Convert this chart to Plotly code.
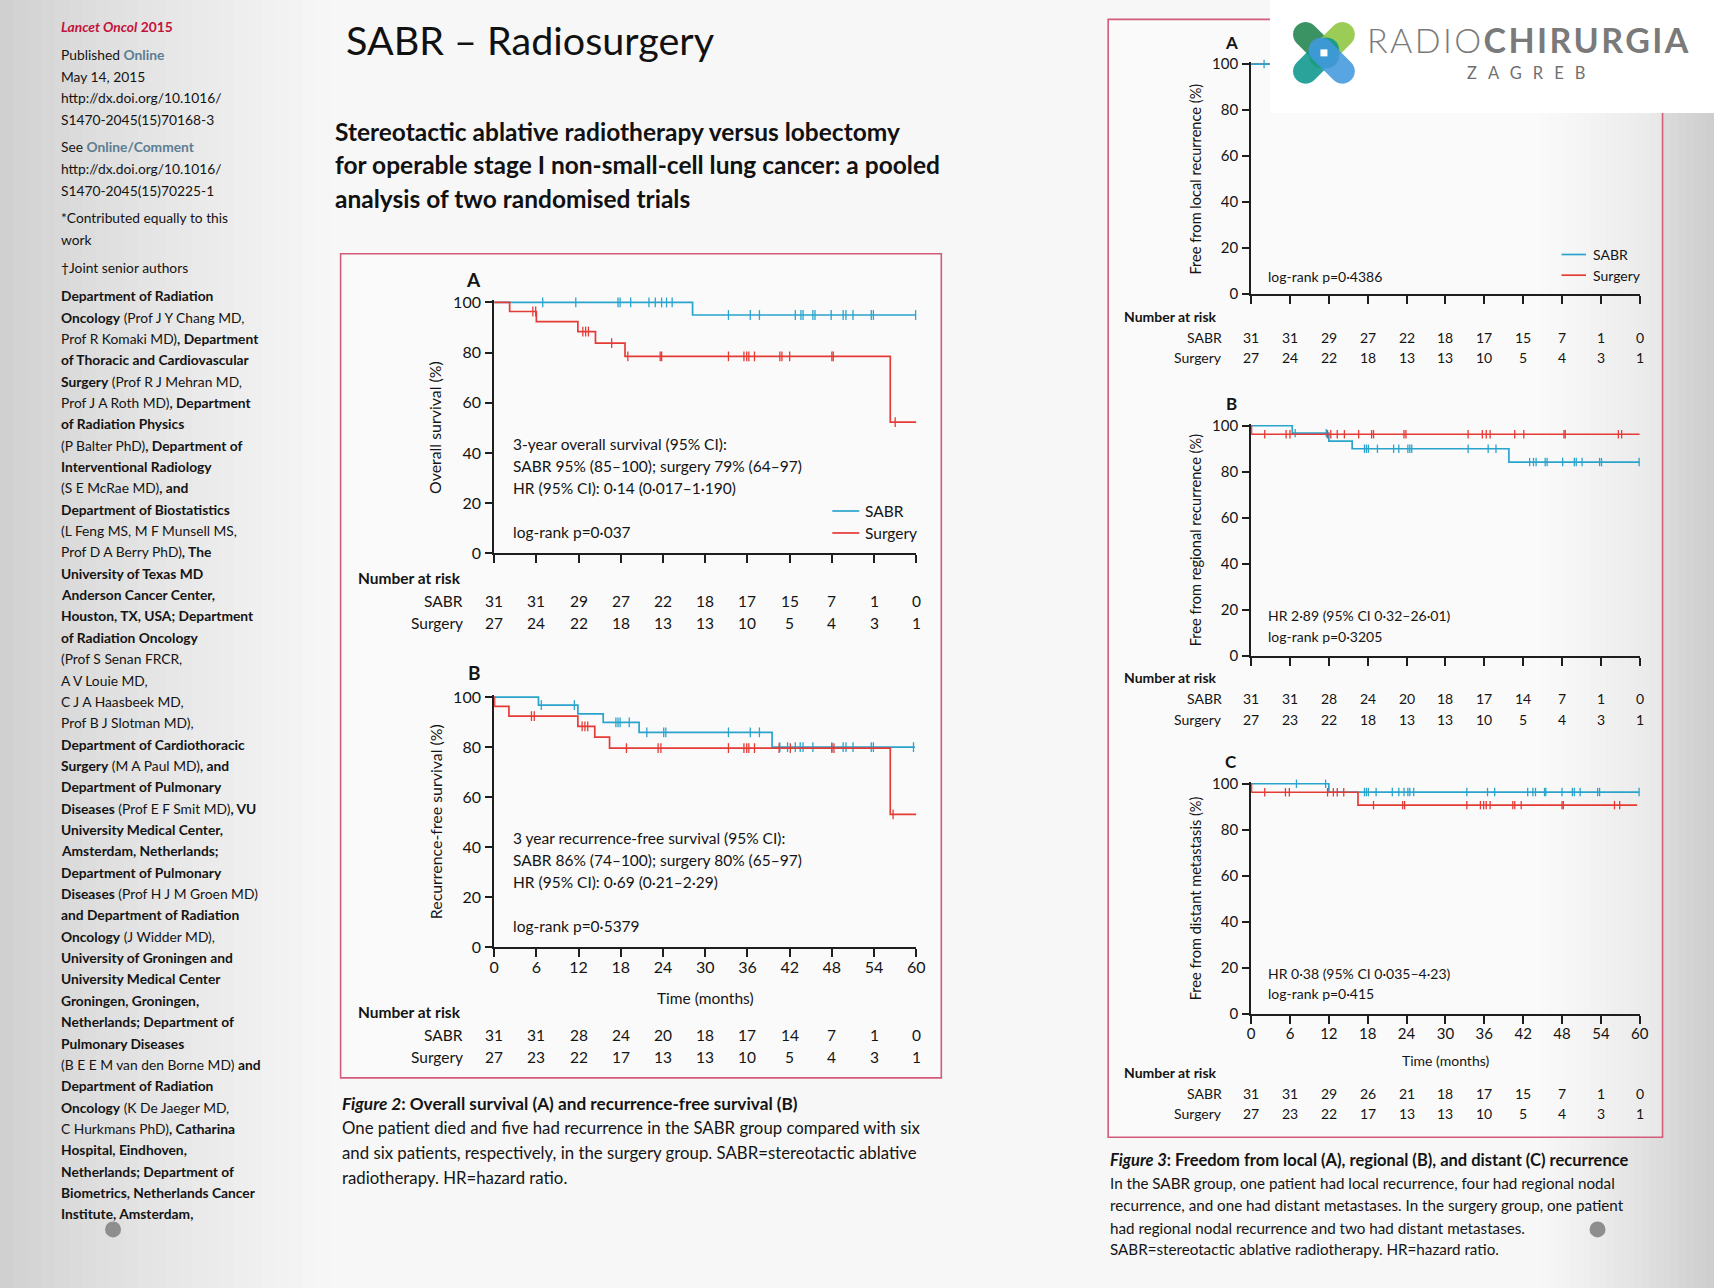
import math
import plotly.graph_objects as go

W, H = 1714, 1288
# measured capture mapping (page px -> picture px): pic = A + B * page
AX, BX = 5.0, 0.9915
AY, BY = 7.6, 0.9876


def X(p):
    return ((p - AX) / BX) / W


def Y(p):
    return 1 - ((p - AY) / BY) / H


# ------------------------------------------------------------------ data
MONTH_TICKS = [0, 6, 12, 18, 24, 30, 36, 42, 48, 54, 60]
PCT_TICKS = [0, 20, 40, 60, 80, 100]

# Figure 2A - overall survival
os_sabr_time = [0, 28.2, 60]
os_sabr_surv = [100, 95.0, 95.0]
os_sabr_cens = [6.9, 11.6, 17.6, 17.9, 19.4, 22.0, 22.9, 23.8, 24.5, 25.3, 33.3, 36.4, 37.7,
                42.8, 43.6, 43.9, 45.3, 45.6, 47.9, 49.6, 50.0, 51.0, 53.6, 53.9, 59.9]
os_surg_time = [0, 2.2, 6.0, 11.9, 14.4, 18.6, 56.3, 60]
os_surg_surv = [100, 96.4, 92.4, 88.4, 83.8, 78.5, 52.3, 52.3]
os_surg_cens = [5.5, 5.9, 12.6, 13.0, 13.4, 16.7, 19.0, 23.6, 23.8, 33.3, 35.5, 35.9, 36.2,
                37.0, 40.6, 40.9, 42.0, 48.0, 48.2, 57.0]

# Figure 2B - recurrence-free survival
rfs_sabr_time = [0, 6.3, 11.9, 15.5, 20.6, 39.5, 59.8]
rfs_sabr_surv = [100, 96.8, 93.3, 89.9, 85.9, 80.0, 80.0]
rfs_sabr_cens = [6.7, 11.4, 17.3, 17.6, 17.9, 19.2, 21.7, 24.1, 24.4, 33.3, 36.4, 37.7, 40.6,
                 41.7, 42.8, 43.5, 43.9, 45.3, 48.0, 49.6, 50.0, 51.0, 53.6, 53.9, 59.6]
rfs_surg_time = [0, 0.05, 2.1, 11.9, 14.3, 16.4, 56.3, 60]
rfs_surg_surv = [100, 96.3, 92.4, 88.3, 84.0, 79.6, 53.1, 53.1]
rfs_surg_cens = [5.3, 5.7, 12.5, 12.9, 13.3, 18.8, 23.3, 23.7, 33.3, 35.5, 35.9, 36.2, 37.0,
                 40.5, 42.1, 48.0, 48.3, 56.7]

# Figure 3A - free from local recurrence (mostly hidden behind the logo)
loc_sabr_time = [0, 30.5, 60]
loc_sabr_surv = [100, 95.5, 95.5]
loc_sabr_cens = [2.0, 7.0, 11.6, 17.6, 19.4, 22.9, 24.5, 33.3, 36.4, 42.8, 45.3, 49.6, 53.6, 59.9]
loc_surg_time = [0, 60]
loc_surg_surv = [100, 100]
loc_surg_cens = [5.5, 12.6, 16.7, 23.6, 35.5, 40.6, 48.0, 57.0]

# Figure 3B - free from regional recurrence
reg_sabr_time = [0, 6.35, 12.0, 15.6, 39.8, 60]
reg_sabr_surv = [100, 96.8, 93.3, 90.0, 84.2, 84.2]
reg_sabr_cens = [6.8, 11.6, 17.5, 17.8, 18.1, 19.5, 22.0, 22.8, 24.2, 24.5, 24.8, 33.5, 36.6,
                 37.8, 43.0, 43.6, 44.0, 45.4, 45.7, 48.1, 49.9, 50.2, 51.1, 53.8, 54.1, 59.9]
reg_surg_time = [0, 0.05, 60]
reg_surg_surv = [100, 96.3, 96.3]
reg_surg_cens = [2.1, 5.4, 6.0, 11.8, 12.3, 13.3, 14.4, 16.6, 18.6, 18.9, 23.6, 23.9, 33.5,
                 35.7, 36.3, 36.9, 40.7, 42.1, 48.3, 48.5, 56.7, 57.2]

# Figure 3C - free from distant metastasis
dis_sabr_time = [0, 12.0, 59.9]
dis_sabr_surv = [100, 96.4, 96.4]
dis_sabr_cens = [7.0, 11.5, 17.5, 17.8, 18.1, 19.3, 21.8, 22.8, 23.6, 24.2, 24.5, 25.1, 33.3,
                 36.5, 37.6, 42.7, 43.5, 43.9, 45.3, 45.5, 48.0, 49.6, 49.9, 50.8, 53.5, 53.8, 59.9]
dis_surg_time = [0, 0.05, 16.5, 59.6]
dis_surg_surv = [100, 96.3, 90.7, 90.7]
dis_surg_cens = [2.1, 5.3, 5.9, 11.8, 12.7, 13.3, 14.3, 18.9, 23.4, 23.7, 33.3, 35.4, 35.9,
                 36.3, 36.9, 40.4, 40.7, 41.7, 48.0, 48.2, 56.1, 56.9]

# Numbers at risk
risk_os_sabr = [31, 31, 29, 27, 22, 18, 17, 15, 7, 1, 0]
risk_os_surg = [27, 24, 22, 18, 13, 13, 10, 5, 4, 3, 1]
risk_rfs_sabr = [31, 31, 28, 24, 20, 18, 17, 14, 7, 1, 0]
risk_rfs_surg = [27, 23, 22, 17, 13, 13, 10, 5, 4, 3, 1]
risk_loc_sabr = [31, 31, 29, 27, 22, 18, 17, 15, 7, 1, 0]
risk_loc_surg = [27, 24, 22, 18, 13, 13, 10, 5, 4, 3, 1]
risk_reg_sabr = [31, 31, 28, 24, 20, 18, 17, 14, 7, 1, 0]
risk_reg_surg = [27, 23, 22, 18, 13, 13, 10, 5, 4, 3, 1]
risk_dis_sabr = [31, 31, 29, 26, 21, 18, 17, 15, 7, 1, 0]
risk_dis_surg = [27, 23, 22, 17, 13, 13, 10, 5, 4, 3, 1]

# ------------------------------------------------------------------ styles
FONT = "Lato, 'Open Sans', sans-serif"
INK = "#141414"
SABR_C = "#2aa4cd"
SURG_C = "#e53b36"
BOX_C = "#d25c7a"
AX_C = "#1e1e1e"


def step_at(times, surv, t):
    v = surv[0]
    for ti, si in zip(times, surv):
        if ti <= t:
            v = si
    return v


# panel layout (pixel geometry only)
PANELS = [
    dict(x0=494, x1=916, ybot=553.3, y100=302.3, xlab=False, tfs=16, big=True,
         curves=[(os_sabr_time, os_sabr_surv, os_sabr_cens, SABR_C),
                 (os_surg_time, os_surg_surv, os_surg_cens, SURG_C)],
         risk=(risk_os_sabr, risk_os_surg), risk_y=(578, 601, 623),
         ytitle="Overall survival (%)", letter="A", letter_xy=(473, 279)),
    dict(x0=494, x1=916, ybot=947.3, y100=697.3, xlab=True, tfs=16, big=True,
         curves=[(rfs_sabr_time, rfs_sabr_surv, rfs_sabr_cens, SABR_C),
                 (rfs_surg_time, rfs_surg_surv, rfs_surg_cens, SURG_C)],
         risk=(risk_rfs_sabr, risk_rfs_surg), risk_y=(1012, 1035, 1057),
         ytitle="Recurrence-free survival (%)", letter="B", letter_xy=(474, 673)),
    dict(x0=1250.7, x1=1639.2, ybot=293.7, y100=63.7, xlab=False, tfs=15, big=False,
         curves=[(loc_surg_time, loc_surg_surv, loc_surg_cens, SURG_C),
                 (loc_sabr_time, loc_sabr_surv, loc_sabr_cens, SABR_C)],
         risk=(risk_loc_sabr, risk_loc_surg), risk_y=(316.7, 337.3, 357.3),
         ytitle="Free from local recurrence (%)", letter="A", letter_xy=(1231, 41.7)),
    dict(x0=1250.7, x1=1639.2, ybot=655.7, y100=425.7, xlab=False, tfs=15, big=False,
         curves=[(reg_sabr_time, reg_sabr_surv, reg_sabr_cens, SABR_C),
                 (reg_surg_time, reg_surg_surv, reg_surg_cens, SURG_C)],
         risk=(risk_reg_sabr, risk_reg_surg), risk_y=(677.7, 698.3, 719.3),
         ytitle="Free from regional recurrence (%)", letter="B", letter_xy=(1231, 403.3)),
    dict(x0=1250.7, x1=1639.2, ybot=1014, y100=784, xlab=True, tfs=15, big=False,
         curves=[(dis_sabr_time, dis_sabr_surv, dis_sabr_cens, SABR_C),
                 (dis_surg_time, dis_surg_surv, dis_surg_cens, SURG_C)],
         risk=(risk_dis_sabr, risk_dis_surg), risk_y=(1073.3, 1094, 1114.3),
         ytitle="Free from distant metastasis (%)", letter="C", letter_xy=(1231, 761.7)),
]

YMAX = 100.8

fig = go.Figure()
annotations = []
shapes = []


def ann(text, x, y, size, color=INK, xanchor="left", yanchor="middle", xref="paper",
        family=FONT, **kw):
    annotations.append(dict(text=text, x=x, y=y, xref=xref, yref="paper", showarrow=False,
                            xanchor=xanchor, yanchor=yanchor,
                            font=dict(family=family, size=size, color=color), **kw))


layout_axes = {}
for i, p in enumerate(PANELS, start=1):
    sfx = "" if i == 1 else str(i)
    xref = "x" + sfx
    yref = "y" + sfx
    pxper = (p["ybot"] - p["y100"]) / 100.0
    ytop = p["ybot"] - YMAX * pxper
    layout_axes["xaxis" + sfx] = dict(
        domain=[X(p["x0"]), X(p["x1"])], anchor=yref, range=[0, 60], tickvals=MONTH_TICKS,
        showticklabels=p["xlab"], ticks="outside", ticklen=8, tickwidth=1.6, tickcolor=AX_C,
        showline=True, linecolor=AX_C, linewidth=2, showgrid=False, zeroline=False,
        tickfont=dict(family=FONT, size=p["tfs"], color=INK), ticklabelstandoff=-3,
        fixedrange=True)
    layout_axes["yaxis" + sfx] = dict(
        domain=[Y(p["ybot"]), Y(ytop)], anchor=xref, range=[0, YMAX], tickvals=PCT_TICKS,
        ticks="outside", ticklen=7, tickwidth=1.6, tickcolor=AX_C,
        showline=True, linecolor=AX_C, linewidth=2, showgrid=False, zeroline=False,
        tickfont=dict(family=FONT, size=p["tfs"], color=INK), ticklabelstandoff=1,
        fixedrange=True)

    for (t, s, cens, col) in p["curves"]:
        fig.add_trace(go.Scatter(x=t, y=s, mode="lines", line=dict(color=col, width=1.7, shape="hv"),
                                 xaxis=xref, yaxis=yref, showlegend=False, hoverinfo="skip"))
        fig.add_trace(go.Scatter(x=cens, y=[step_at(t, s, c) for c in cens], mode="markers",
                                 marker=dict(symbol="line-ns-open", size=7 if p["big"] else 6,
                                             color=col, line=dict(color=col, width=1.3)),
                                 cliponaxis=False, xaxis=xref, yaxis=yref,
                                 showlegend=False, hoverinfo="skip"))

    # panel letter
    ann("<b>%s</b>" % p["letter"], X(p["letter_xy"][0]), Y(p["letter_xy"][1]),
        19 if p["big"] else 17, xanchor="center")
    # y title
    yt_x = p["x0"] - (59 if p["big"] else 55.5)
    ann(p["ytitle"], X(yt_x), Y((p["ybot"] + p["y100"]) / 2), 15.9 if p["big"] else 14.6,
        xanchor="center", textangle=-90)
    # number at risk
    hy, sy, gy = p["risk_y"]
    lab_right = 464.5 if p["big"] else 1223.3
    head_left = 356 if p["big"] else 1122
    rfs = 15.5 if p["big"] else 14
    ann("<b>Number at risk</b>", X(head_left), Y(hy), rfs)
    ann("SABR", X(lab_right), Y(sy), rfs, xanchor="right")
    ann("Surgery", X(lab_right), Y(gy), rfs, xanchor="right")
    for m, a, b in zip(MONTH_TICKS, p["risk"][0], p["risk"][1]):
        ann(str(a), m, Y(sy), rfs, xanchor="center", xref=xref)
        ann(str(b), m, Y(gy), rfs, xanchor="center", xref=xref)

# x-axis titles
ann("Time (months)", X(705), Y(998), 15.5, xanchor="center")
ann("Time (months)", X(1445), Y(1060.7), 14, xanchor="center")

# in-plot texts, figure 2
for txt, yy in [("3-year overall survival (95% CI):", 444),
                ("SABR 95% (85–100); surgery 79% (64–97)", 466),
                ("HR (95% CI): 0·14 (0·017–1·190)", 488),
                ("log-rank p=0·037", 532),
                ("3 year recurrence-free survival (95% CI):", 838),
                ("SABR 86% (74–100); surgery 80% (65–97)", 860),
                ("HR (95% CI): 0·69 (0·21–2·29)", 882),
                ("log-rank p=0·5379", 926)]:
    ann(txt, X(511), Y(yy), 15.5)
# in-plot texts, figure 3
for txt, yy in [("log-rank p=0·4386", 276.7),
                ("HR 2·89 (95% CI 0·32–26·01)", 616),
                ("log-rank p=0·3205", 636.7),
                ("HR 0·38 (95% CI 0·035–4·23)", 974.3),
                ("log-rank p=0·415", 994.3)]:
    ann(txt, X(1266), Y(yy), 14)

# legends (fig 2A, fig 3A)
for (lx0, lx1, tx, y1, y2, fs) in [(832, 859, 863, 511, 533, 15.5), (1561, 1585.5, 1590, 254.3, 275, 14)]:
    for yy, col, lab in [(y1, SABR_C, "SABR"), (y2, SURG_C, "Surgery")]:
        shapes.append(dict(type="line", xref="paper", yref="paper", x0=X(lx0), x1=X(lx1),
                           y0=Y(yy), y1=Y(yy), line=dict(color=col, width=1.7)))
        ann(lab, X(tx), Y(yy), fs)


# ------------------------------------------------------------------ page decoration
def lerp(a, b, f):
    return tuple(int(round(a[k] + (b[k] - a[k]) * f)) for k in range(3))


bg_shapes = []
n = 24
for k in range(n):
    xa, xb = 330 * k / n, 330 * (k + 1) / n + 1
    c = lerp((208, 208, 208), (246, 246, 246), (k / (n - 1)) ** 0.8)
    bg_shapes.append(dict(type="rect", xref="paper", yref="paper", x0=X(xa) if k else -0.02, x1=X(xb),
                          y0=-0.02, y1=1.02, line=dict(width=0), fillcolor="rgb(%d,%d,%d)" % c, layer="below"))
for k in range(n):
    xa, xb = 1540 + 174 * k / n, 1540 + 174 * (k + 1) / n + 1
    c = lerp((246, 246, 246), (206, 206, 206), (k / (n - 1)) ** 1.2)
    bg_shapes.append(dict(type="rect", xref="paper", yref="paper", x0=X(xa), x1=X(xb) if k < n - 1 else 1.02,
                          y0=-0.02, y1=1.02, line=dict(width=0), fillcolor="rgb(%d,%d,%d)" % c, layer="below"))

# figure boxes
box_shapes = [
    dict(type="rect", xref="paper", yref="paper", x0=X(340.5), x1=X(941), y0=Y(1078.3), y1=Y(253.5),
         line=dict(color=BOX_C, width=1.6), fillcolor="rgba(255,255,255,0.35)", layer="below"),
    dict(type="rect", xref="paper", yref="paper", x0=X(1107.8), x1=X(1662), y0=Y(1137.7), y1=Y(19),
         line=dict(color=BOX_C, width=1.6), fillcolor="rgba(255,255,255,0.35)", layer="below"),
]

# logo panel (covers the top of figure 3A)
logo_shapes = [dict(type="rect", xref="paper", yref="paper", x0=X(1269.5), x1=1.02, y0=Y(112.7), y1=1.02,
                    line=dict(width=0), fillcolor="#ffffff", layer="above")]


def stadium(cx, cy, dx, dy, length, half_w, back=4):
    nx, ny = -dy, dx
    pts = []
    ex, ey = cx + dx * length, cy + dy * length
    sx, sy = cx - dx * back, cy - dy * back
    for k in range(13):
        a = -math.pi / 2 + math.pi * k / 12
        ca, sa = math.cos(a), math.sin(a)
        pts.append((ex + (dx * ca + nx * sa) * half_w, ey + (dy * ca + ny * sa) * half_w))
    for k in range(13):
        a = math.pi / 2 + math.pi * k / 12
        ca, sa = math.cos(a), math.sin(a)
        pts.append((sx + (dx * ca + nx * sa) * half_w, sy + (dy * ca + ny * sa) * half_w))
    return "M " + " L ".join("%.5f,%.5f" % (X(px), Y(py)) for px, py in pts) + " Z"


icx, icy = 1323.5, 52.5
r2 = 0.70710678
for (dx, dy, col) in [(-r2, -r2, "rgba(25,128,72,0.85)"), (r2, -r2, "rgba(141,198,63,0.88)"),
                      (-r2, r2, "rgba(12,150,140,0.88)"), (r2, r2, "rgba(66,152,222,0.88)")]:
    logo_shapes.append(dict(type="path", xref="paper", yref="paper", path=stadium(icx, icy, dx, dy, 26, 12.5),
                            line=dict(width=0), fillcolor=col, layer="above"))
logo_shapes.append(dict(type="rect", xref="paper", yref="paper", x0=X(icx - 3.5), x1=X(icx + 3.5),
                        y0=Y(icy + 3.5), y1=Y(icy - 3.5), line=dict(width=0), fillcolor="#ffffff", layer="above"))

# grey page dots
dot_shapes = [dict(type="circle", xref="paper", yref="paper", x0=X(cx - 8), x1=X(cx + 8), y0=Y(1238), y1=Y(1222),
                   line=dict(width=0), fillcolor="#8e8e8e", layer="above") for cx in (113, 1597)]

ann('<span style="letter-spacing:2.4px">RADIO<b>CHIRURGIA</b></span>', X(1365), Y(39.5), 34, color="#7a7a7a")
annotations[-1]["font"]["weight"] = 300
ann('<span style="letter-spacing:11px">ZAGREB</span>', X(1465), Y(72.5), 16.5, color="#707070")

# title & subtitle
ann("SABR – Radiosurgery", X(344), Y(39), 39.5, color="#111111")
for txt, yy in [("Stereotactic ablative radiotherapy versus lobectomy", 131),
                ("for operable stage I non-small-cell lung cancer: a pooled", 164),
                ("analysis of two randomised trials", 198)]:
    ann("<b>%s</b>" % txt, X(333), Y(yy), 24.5, color="#111111")

# captions
ann("<b><i>Figure 2</i>: Overall survival (A) and recurrence-free survival (B)</b>", X(340), Y(1104), 17.2)
for txt, yy in [("One patient died and five had recurrence in the SABR group compared with six", 1128.3),
                ("and six patients, respectively, in the surgery group. SABR=stereotactic ablative", 1152.7),
                ("radiotherapy. HR=hazard ratio.", 1177.7)]:
    ann(txt, X(340), Y(yy), 16.8)
ann("<b><i>Figure 3</i>: Freedom from local (A), regional (B), and distant (C) recurrence</b>", X(1108), Y(1160.7), 16.5)
for txt, yy in [("In the SABR group, one patient had local recurrence, four had regional nodal", 1183.3),
                ("recurrence, and one had distant metastases. In the surgery group, one patient", 1205.7),
                ("had regional nodal recurrence and two had distant metastases.", 1228.3),
                ("SABR=stereotactic ablative radiotherapy. HR=hazard ratio.", 1250)]:
    ann(txt, X(1108), Y(yy), 15.2)

# sidebar
LINK = "#5c7d92"
side = [
    ('<b><i>Lancet Oncol</i> 2015</b>', 26.5, "#c4123c"),
    ('Published <b><span style="color:%s">Online</span></b>' % LINK, 54.3, INK),
    ("May 14, 2015", 75.9, INK),
    ("http://dx.doi.org/10.1016/", 97.5, INK),
    ("S1470-2045(15)70168-3", 119.2, INK),
    ('See <b><span style="color:%s">Online/Comment</span></b>' % LINK, 146.5, INK),
    ("http://dx.doi.org/10.1016/", 168.2, INK),
    ("S1470-2045(15)70225-1", 189.8, INK),
    ("*Contributed equally to this", 217.6, INK),
    ("work", 239.2, INK),
    ("†Joint senior authors", 267.8, INK),
]
aff = [
    "<b>Department of Radiation</b>",
    "<b>Oncology</b> (Prof J Y Chang MD,",
    "Prof R Komaki MD)<b>, Department</b>",
    "<b>of Thoracic and Cardiovascular</b>",
    "<b>Surgery</b> (Prof R J Mehran MD,",
    "Prof J A Roth MD)<b>, Department</b>",
    "<b>of Radiation Physics</b>",
    "(P Balter PhD)<b>, Department of</b>",
    "<b>Interventional Radiology</b>",
    "(S E McRae MD)<b>, and</b>",
    "<b>Department of Biostatistics</b>",
    "(L Feng MS, M F Munsell MS,",
    "Prof D A Berry PhD)<b>, The</b>",
    "<b>University of Texas MD</b>",
    "<b>Anderson Cancer Center,</b>",
    "<b>Houston, TX, USA; Department</b>",
    "<b>of Radiation Oncology</b>",
    "(Prof S Senan FRCR,",
    "A V Louie MD,",
    "C J A Haasbeek MD,",
    "Prof B J Slotman MD),",
    "<b>Department of Cardiothoracic</b>",
    "<b>Surgery</b> (M A Paul MD)<b>, and</b>",
    "<b>Department of Pulmonary</b>",
    "<b>Diseases</b> (Prof E F Smit MD)<b>, VU</b>",
    "<b>University Medical Center,</b>",
    "<b>Amsterdam, Netherlands;</b>",
    "<b>Department of Pulmonary</b>",
    "<b>Diseases</b> (Prof H J M Groen MD)",
    "<b>and Department of Radiation</b>",
    "<b>Oncology</b> (J Widder MD),",
    "<b>University of Groningen and</b>",
    "<b>University Medical Center</b>",
    "<b>Groningen, Groningen,</b>",
    "<b>Netherlands; Department of</b>",
    "<b>Pulmonary Diseases</b>",
    "(B E E M van den Borne MD) <b>and</b>",
    "<b>Department of Radiation</b>",
    "<b>Oncology</b> (K De Jaeger MD,",
    "C Hurkmans PhD)<b>, Catharina</b>",
    "<b>Hospital, Eindhoven,</b>",
    "<b>Netherlands; Department of</b>",
    "<b>Biometrics, Netherlands Cancer</b>",
    "<b>Institute, Amsterdam,</b>",
]
for txt, yy, col in side:
    ann(txt, X(59), Y(yy), 13.8, color=col)
for k, txt in enumerate(aff):
    ann(txt, X(59), Y(295.5 + k * 21.37), 13.8, color=INK)

fig.update_layout(
    width=W, height=H, autosize=False,
    margin=dict(l=0, r=0, t=0, b=0, pad=0),
    paper_bgcolor="#f7f7f7", plot_bgcolor="rgba(0,0,0,0)",
    showlegend=False,
    shapes=bg_shapes + box_shapes + shapes + logo_shapes + dot_shapes,
    annotations=annotations,
    **layout_axes,
)

fig.write_html("out.html", config={"displayModeBar": False},
               post_script="document.body.style.margin='0';")
